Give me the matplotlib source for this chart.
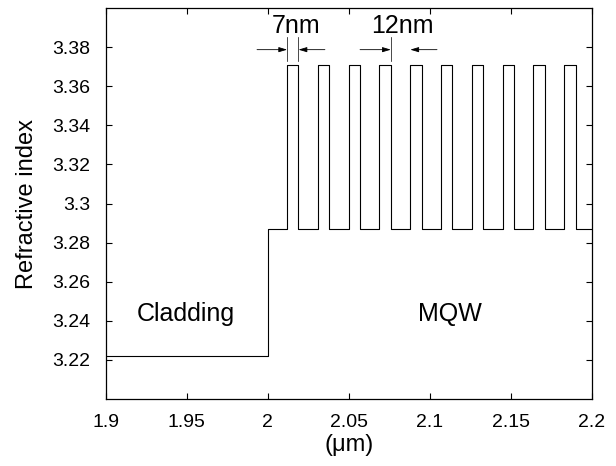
import matplotlib
matplotlib.use("Agg")
from matplotlib import pyplot as plt

plt.rcParams['font.family'] = ['Liberation Sans', 'DejaVu Sans']

# refractive index profile (position in um)
clad_x = [1.9, 2.0]
clad_n = 3.222
barrier_n = 3.287
well_n = 3.371
well_start = [2.012, 2.031, 2.050, 2.069, 2.088, 2.107, 2.126, 2.145, 2.164, 2.183]
well_w = 0.007
end_x = 2.2

x_ticks = [1.9, 1.95, 2.0, 2.05, 2.1, 2.15, 2.2]
x_labels = ['1.9', '1.95', '2', '2.05', '2.1', '2.15', '2.2']
y_ticks = [3.22, 3.24, 3.26, 3.28, 3.30, 3.32, 3.34, 3.36, 3.38]
y_labels = ['3.22', '3.24', '3.26', '3.28', '3.3', '3.32', '3.34', '3.36', '3.38']

# build the step profile
xs = [clad_x[0], clad_x[1], clad_x[1]]
ys = [clad_n, clad_n, barrier_n]
for s in well_start:
    xs += [s, s, s + well_w, s + well_w]
    ys += [barrier_n, well_n, well_n, barrier_n]
xs.append(end_x)
ys.append(barrier_n)

fig = plt.figure(figsize=(6.16, 4.66), dpi=100)
ax = fig.add_axes([0.1716, 0.1438, 0.789, 0.839])
ax.plot(xs, ys, color='k', lw=0.8)

ax.set_xlim(1.9, 2.2)
ax.set_ylim(3.2, 3.4)
ax.set_xticks(x_ticks)
ax.set_xticklabels(x_labels)
ax.set_yticks(y_ticks)
ax.set_yticklabels(y_labels)
ax.tick_params(direction='in', top=True, right=True, length=4, width=0.8,
               labelsize=14)
ax.tick_params(axis='x', pad=11)
ax.tick_params(axis='y', pad=11)
for sp in ax.spines.values():
    sp.set_linewidth(0.9)

ax.set_xlabel('(\u03bcm)', fontsize=17, labelpad=2)
ax.set_ylabel('Refractive index', fontsize=17, labelpad=10)

ax.text(1.9496, 3.2434, 'Cladding', fontsize=18, ha='center', va='center')
ax.text(2.1126, 3.2434, 'MQW', fontsize=18, ha='center', va='center')

# width markers
arr = dict(arrowstyle='-|>,head_length=0.5,head_width=0.15', color='k', lw=0.6,
           shrinkA=0, shrinkB=0)
y_arr = 3.3787
ax.annotate('', xy=(2.012, y_arr), xytext=(1.9934, y_arr), arrowprops=arr)
ax.annotate('', xy=(2.019, y_arr), xytext=(2.0353, y_arr), arrowprops=arr)
ax.annotate('', xy=(2.076, y_arr), xytext=(2.057, y_arr), arrowprops=arr)
ax.annotate('', xy=(2.088, y_arr), xytext=(2.1045, y_arr), arrowprops=arr)
for xv in [2.012, 2.019, 2.076]:
    ax.plot([xv, xv], [3.373, 3.385], color='k', lw=0.5)
ax.text(2.0175, 3.391, '7nm', fontsize=18, ha='center', va='center')
ax.text(2.083, 3.391, '12nm', fontsize=18, ha='center', va='center')

fig.savefig('out.png', dpi=100)
